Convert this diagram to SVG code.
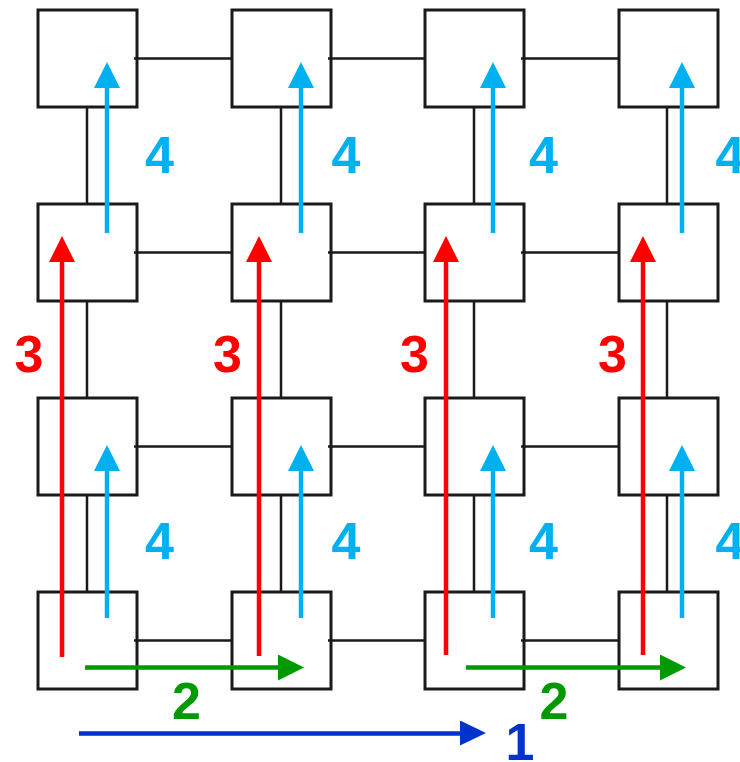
<svg xmlns="http://www.w3.org/2000/svg" width="740" height="762" viewBox="0 0 740 762">
<style>
.box{fill:#fff;stroke:#1a1a1a;stroke-width:3}
.link{stroke:#1a1a1a;stroke-width:2.5;fill:none}
.a4{stroke:#00b0f0;stroke-width:4.5;fill:none}
.a3{stroke:#ff0000;stroke-width:4.5;fill:none}
.a2{stroke:#009900;stroke-width:4.5;fill:none}
.a1{stroke:#0033cc;stroke-width:4.5;fill:none}
text{font-family:"Liberation Sans",Arial,sans-serif;font-weight:bold;font-size:52px;text-anchor:middle}
.t4{fill:#00b0f0}.t3{fill:#ff0000}.t2{fill:#009900}.t1{fill:#0033cc}
</style>
<defs>
<marker id="h4" markerUnits="userSpaceOnUse" markerWidth="26" markerHeight="26" refX="0" refY="13" orient="auto"><path d="M0,0 L26,13 L0,26 z" fill="#00b0f0"/></marker>
<marker id="h3" markerUnits="userSpaceOnUse" markerWidth="26" markerHeight="26" refX="0" refY="13" orient="auto"><path d="M0,0 L26,13 L0,26 z" fill="#ff0000"/></marker>
<marker id="h2" markerUnits="userSpaceOnUse" markerWidth="26" markerHeight="26" refX="0" refY="13" orient="auto"><path d="M0,0 L26,13 L0,26 z" fill="#009900"/></marker>
<marker id="h1" markerUnits="userSpaceOnUse" markerWidth="26" markerHeight="26" refX="0" refY="13" orient="auto"><path d="M0,0 L26,12.5 L0,25 z" fill="#0033cc"/></marker>
</defs>
<g id="nodes">
<g id="n11"><rect class="box" x="38" y="10" width="99" height="97"/></g>
<g id="n12"><rect class="box" x="232" y="10" width="99" height="97"/></g>
<g id="n13"><rect class="box" x="425" y="10" width="99" height="97"/></g>
<g id="n14"><rect class="box" x="619" y="10" width="99" height="97"/></g>
<g id="n21"><rect class="box" x="38" y="204" width="99" height="97"/></g>
<g id="n22"><rect class="box" x="232" y="204" width="99" height="97"/></g>
<g id="n23"><rect class="box" x="425" y="204" width="99" height="97"/></g>
<g id="n24"><rect class="box" x="619" y="204" width="99" height="97"/></g>
<g id="n31"><rect class="box" x="38" y="398" width="99" height="97"/></g>
<g id="n32"><rect class="box" x="232" y="398" width="99" height="97"/></g>
<g id="n33"><rect class="box" x="425" y="398" width="99" height="97"/></g>
<g id="n34"><rect class="box" x="619" y="398" width="99" height="97"/></g>
<g id="n41"><rect class="box" x="38" y="592" width="99" height="97"/></g>
<g id="n42"><rect class="box" x="232" y="592" width="99" height="97"/></g>
<g id="n43"><rect class="box" x="425" y="592" width="99" height="97"/></g>
<g id="n44"><rect class="box" x="619" y="592" width="99" height="97"/></g>
</g>
<g id="connectors">
<path class="link" d="M134,58.5H232M328,58.5H425M521,58.5H619"/>
<path class="link" d="M134,252.5H232M328,252.5H425M521,252.5H619"/>
<path class="link" d="M134,446.5H232M328,446.5H425M521,446.5H619"/>
<path class="link" d="M134,640.5H232M328,640.5H425M521,640.5H619"/>
<path class="link" d="M87,107V204M87,301V398M87,495V592"/>
<path class="link" d="M281,107V204M281,301V398M281,495V592"/>
<path class="link" d="M474,107V204M474,301V398M474,495V592"/>
<path class="link" d="M667,107V204M667,301V398M667,495V592"/>
</g>
<g id="arrows">
<path class="a4" d="M107,233V88" marker-end="url(#h4)"/>
<path class="a4" d="M301,233V88" marker-end="url(#h4)"/>
<path class="a4" d="M493,233V88" marker-end="url(#h4)"/>
<path class="a4" d="M682,233V88" marker-end="url(#h4)"/>
<path class="a4" d="M107,618V471" marker-end="url(#h4)"/>
<path class="a4" d="M301,618V471" marker-end="url(#h4)"/>
<path class="a4" d="M493,618V471" marker-end="url(#h4)"/>
<path class="a4" d="M682,618V471" marker-end="url(#h4)"/>
<path class="a3" d="M62,657V262" marker-end="url(#h3)"/>
<path class="a3" d="M259,656V262" marker-end="url(#h3)"/>
<path class="a3" d="M446,655V262" marker-end="url(#h3)"/>
<path class="a3" d="M643,655V262" marker-end="url(#h3)"/>
<path class="a2" d="M85,667.5H278" marker-end="url(#h2)"/>
<path class="a2" d="M466,667.5H660" marker-end="url(#h2)"/>
<path class="a1" d="M79,733.5H460" marker-end="url(#h1)"/>
</g>
<g id="labels">
<text class="t4" x="159.5" y="173">4</text>
<text class="t4" x="346" y="173">4</text>
<text class="t4" x="543.5" y="173">4</text>
<text class="t4" x="730" y="173">4</text>
<text class="t4" x="159.5" y="559">4</text>
<text class="t4" x="346" y="559">4</text>
<text class="t4" x="543.5" y="559">4</text>
<text class="t4" x="730" y="559">4</text>
<text class="t3" x="29" y="371.5">3</text>
<text class="t3" x="227.5" y="371.5">3</text>
<text class="t3" x="414.5" y="371.5">3</text>
<text class="t3" x="612.5" y="371.5">3</text>
<text class="t2" x="186.5" y="719">2</text>
<text class="t2" x="554" y="718.5">2</text>
<text class="t1" x="520" y="760">1</text>
</g>
</svg>
